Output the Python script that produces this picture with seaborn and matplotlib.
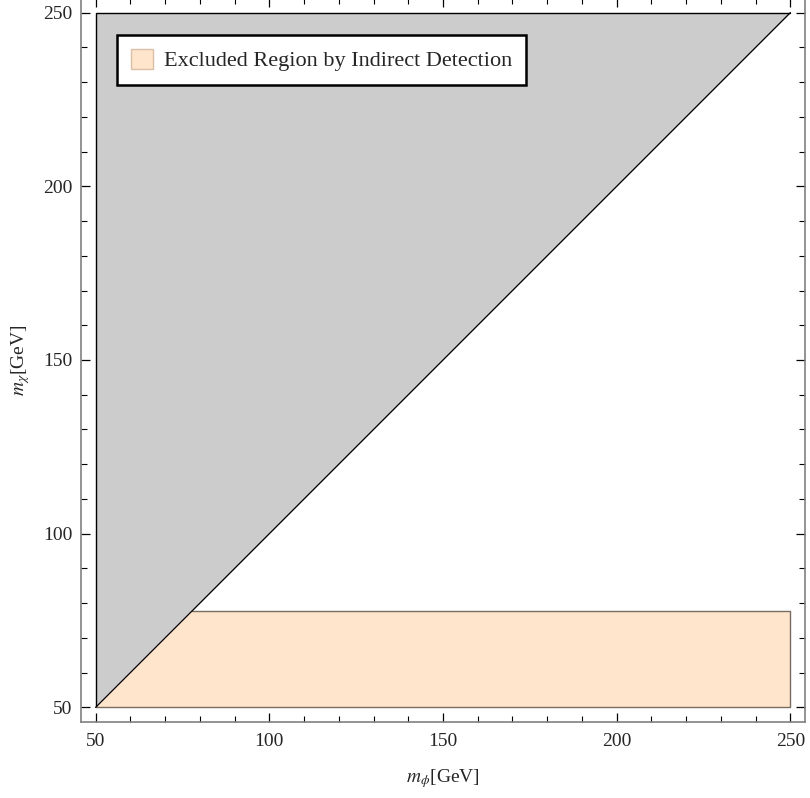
import matplotlib
matplotlib.use("Agg")
import matplotlib.pyplot as plt
from matplotlib.patches import Patch
from matplotlib.ticker import MultipleLocator
import numpy as np
import pandas as pd
import seaborn as sns

# data (GeV)
m_phi = [50, 250]              # plotted mass range
kinematic_bound = [50, 250]    # m_chi = m_phi line
excl_top = 77.7                # indirect detection bound on m_chi
excl_x = [50, 77.7, 250]
excl_upper = [50, 77.7, 77.7]
legend_label = "Excluded Region by Indirect Detection"

gray_fill = "#cccccc"
peach_fill = "#fee5cc"
peach_edge = "#7a6c60"

sns.set_style("ticks")
plt.rcParams["font.family"] = ["Liberation Serif", "DejaVu Serif"]
plt.rcParams["mathtext.fontset"] = "stix"

fig = plt.figure(figsize=(8.1, 7.98), dpi=100)
ax = fig.add_axes([81 / 810, 76 / 798, 724 / 810, 724 / 798])

# forbidden region m_chi > m_phi
ax.fill_between(m_phi, kinematic_bound, [250, 250], color=gray_fill, lw=0, zorder=1)
ax.plot([50, 50, 250], [50, 250, 250], color="black", lw=1.0, zorder=3)

# indirect detection exclusion
ax.fill_between(excl_x, [50, 50, 50], excl_upper, facecolor=peach_fill,
                edgecolor="none", zorder=1)
ax.plot([excl_top, 250, 250, 50], [excl_top, excl_top, 50, 50],
        color=peach_edge, lw=1.0, zorder=3)

df = pd.DataFrame({"m_phi": m_phi, "m_chi": kinematic_bound})
sns.lineplot(data=df, x="m_phi", y="m_chi", color="black", lw=0.9, ax=ax, zorder=4)

ax.set_xlim(45.8, 254.2)
ax.set_ylim(45.8, 254.2)
ax.set_xticks([50, 100, 150, 200, 250])
ax.set_yticks([50, 100, 150, 200, 250])
ax.xaxis.set_minor_locator(MultipleLocator(10))
ax.yaxis.set_minor_locator(MultipleLocator(10))
ax.tick_params(which="both", direction="in", top=True, right=True,
               color="black", labelsize=14)
ax.tick_params(axis="x", pad=8)
ax.tick_params(axis="y", pad=6)
ax.tick_params(which="major", length=6.5, width=0.9)
ax.tick_params(which="minor", length=4, width=0.8)
ax.tick_params(labeltop=False, labelright=False)
for s in ax.spines.values():
    s.set_color("#808080")
    s.set_linewidth(1.2)

ax.set_xlabel(r"$m_\phi$[GeV]", fontsize=14, labelpad=12)
ax.set_ylabel(r"$m_\chi$[GeV]", fontsize=14, labelpad=8)

handle = Patch(facecolor=peach_fill, edgecolor="#d9bfa6", lw=1.0)
leg = ax.legend([handle], [legend_label], loc="upper left",
                bbox_to_anchor=(0.0497, 0.949), borderaxespad=0,
                fancybox=False, framealpha=1, edgecolor="black",
                fontsize=16, handlelength=1.0, handleheight=1.0,
                borderpad=0.62, handletextpad=0.5)
leg.get_frame().set_linewidth(1.8)
leg.set_zorder(10)

fig.savefig("out.png", dpi=100)
